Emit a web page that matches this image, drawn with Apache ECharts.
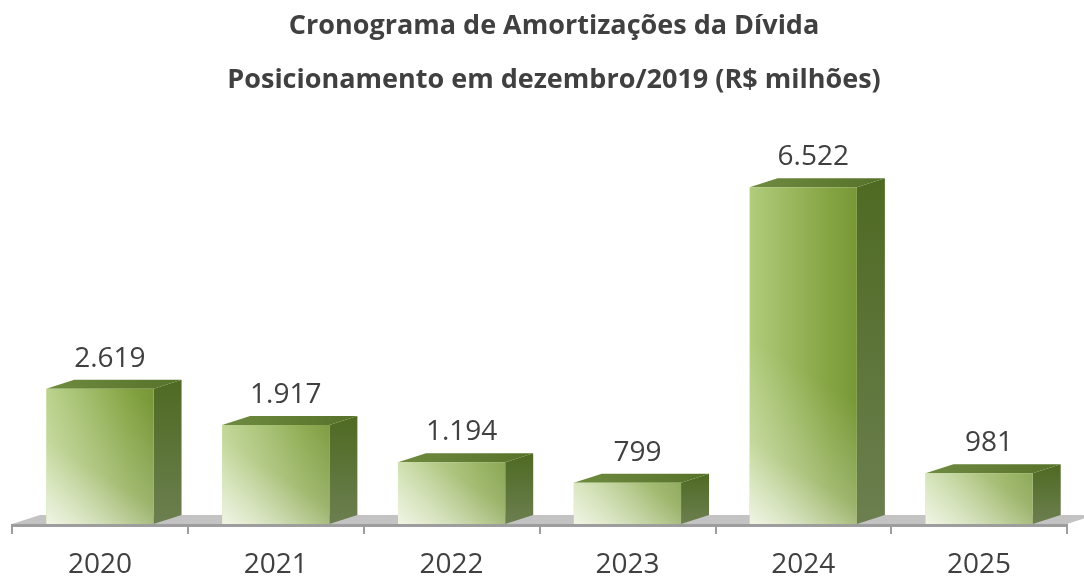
<!DOCTYPE html>
<html>
<head>
<meta charset="utf-8">
<script src="https://cdn.jsdelivr.net/npm/echarts@6/dist/echarts.min.js"></script>
<style>
  html, body { margin: 0; padding: 0; background: #fff; }
  #chart { width: 1084px; height: 576px; }
</style>
</head>
<body>
<div id="chart"></div>
<script>
const years = ['2020', '2021', '2022', '2023', '2024', '2025'];
const amortizacoes = [2619, 1917, 1194, 799, 6522, 981];
const titleLines = ['Cronograma de Amortizações da Dívida', 'Posicionamento em dezembro/2019 (R$ milhões)'];

// depth of the fake 3D effect
const DX = 28, DY = -9;

function fmt(v) {
  return String(v).replace(/\B(?=(\d{3})+(?!\d))/g, '.');
}

const chart = echarts.init(document.getElementById('chart'));

function renderFloor(params, api) {
  const cs = params.coordSys;
  const y0 = api.coord([0, 0])[1];
  const x0 = cs.x, x1 = cs.x + cs.width;
  return {
    type: 'group',
    children: [
      {
        type: 'polygon',
        shape: { points: [[x0, y0], [x1, y0], [x1 + DX, y0 + DY], [x0 + DX, y0 + DY]] },
        style: { fill: '#c3c3c3' }
      },
      {
        type: 'rect',
        shape: { x: x0, y: y0, width: x1 - x0, height: 3 },
        style: { fill: '#9d9d9d' }
      }
    ]
  };
}

function renderBar(params, api) {
  const idx = api.value(0);
  const val = api.value(1);
  const top = api.coord([idx, val]);
  const base = api.coord([idx, 0]);
  const w = api.size([1, 0])[0] * 0.61;
  const xl = top[0] - w / 2, xr = top[0] + w / 2;
  const yt = top[1], yb = base[1];
  return {
    type: 'group',
    children: [
      {
        type: 'polygon',
        shape: { points: [[xr, yt], [xr + DX, yt + DY], [xr + DX, yb + DY], [xr, yb]] },
        style: {
          fill: new echarts.graphic.LinearGradient(0, 0, 0, 1, [
            { offset: 0, color: '#4e6a22' },
            { offset: 1, color: '#6c7f50' }
          ])
        }
      },
      {
        type: 'polygon',
        shape: { points: [[xl, yt], [xl + DX, yt + DY], [xr + DX, yt + DY], [xr, yt]] },
        style: {
          fill: new echarts.graphic.LinearGradient(0, 0, 1, 0, [
            { offset: 0, color: '#6f8b40' },
            { offset: 1, color: '#56722a' }
          ])
        }
      },
      // front face: horizontal shading
      {
        type: 'rect',
        shape: { x: xl, y: yt, width: w, height: yb - yt },
        style: {
          fill: new echarts.graphic.LinearGradient(0, 0, 1, 0, [
            { offset: 0, color: '#b1cc7c' },
            { offset: 0.75, color: '#84a442' },
            { offset: 1, color: '#789838' }
          ])
        }
      },
      // front face: light coming from the bottom left
      {
        type: 'rect',
        shape: { x: xl, y: yt, width: w, height: yb - yt },
        style: {
          fill: new echarts.graphic.LinearGradient(xl, yb, xl + 85, yb - 135, [
            { offset: 0, color: 'rgba(255,255,255,0.8)' },
            { offset: 0.45, color: 'rgba(255,255,255,0.25)' },
            { offset: 1, color: 'rgba(255,255,255,0)' }
          ], true)
        }
      },
      {
        type: 'text',
        x: top[0] + 10,
        y: yt - 30,
        style: {
          text: fmt(val),
          align: 'center',
          verticalAlign: 'middle',
          fill: '#404040',
          font: '28px "Open Sans"'
        }
      }
    ]
  };
}

const option = {
  animation: false,
  graphic: [
    {
      type: 'text',
      x: 554,
      y: 26,
      style: {
        text: titleLines[0],
        align: 'center',
        verticalAlign: 'middle',
        fill: '#404040',
        font: 'bold 27px "Open Sans"'
      }
    },
    {
      type: 'text',
      x: 554,
      y: 80,
      style: {
        text: titleLines[1],
        align: 'center',
        verticalAlign: 'middle',
        fill: '#404040',
        font: 'bold 27px "Open Sans"'
      }
    }
  ],
  grid: { left: 12, right: 17, top: 111, bottom: 52, outerBoundsMode: 'none' },
  xAxis: {
    type: 'category',
    data: years,
    boundaryGap: true,
    axisLine: { show: false },
    axisTick: { show: true, length: 10, lineStyle: { color: '#9d9d9d', width: 2 } },
    axisLabel: { color: '#404040', fontFamily: 'Open Sans', fontSize: 28, margin: 27 }
  },
  yAxis: {
    type: 'value',
    min: 0,
    max: 8000,
    show: false,
    splitLine: { show: false }
  },
  series: [
    {
      type: 'custom',
      renderItem: renderFloor,
      data: [[0, 0]],
      z: 1,
      silent: true
    },
    {
      type: 'custom',
      renderItem: renderBar,
      encode: { x: 0, y: 1 },
      data: amortizacoes.map((v, i) => [i, v]),
      z: 2
    }
  ]
};

chart.setOption(option);
</script>
</body>
</html>
